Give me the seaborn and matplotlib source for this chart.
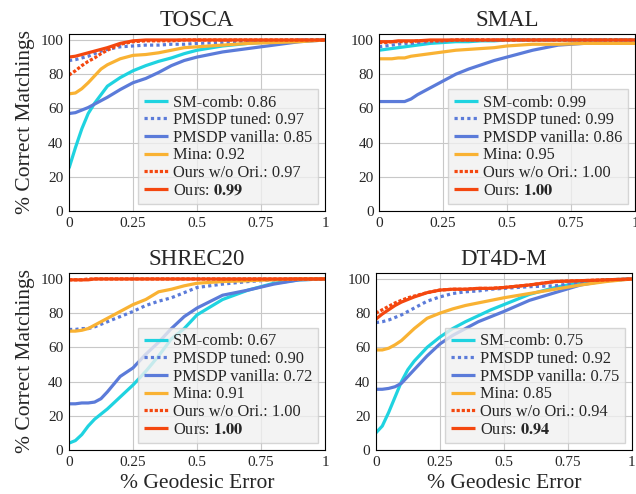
import matplotlib
matplotlib.use("Agg")
import matplotlib.pyplot as plt
import seaborn as sns
import pandas as pd

# sample positions along the geodesic error axis (shared by all curves)
geo_err = [0, 0.025, 0.05, 0.075, 0.1, 0.125, 0.15, 0.2, 0.25, 0.3,
           0.35, 0.4, 0.45, 0.5, 0.6, 0.7, 0.8, 0.9, 1.0]

methods = ["SM-comb", "PMSDP tuned", "PMSDP vanilla", "Mina", "Ours w/o Ori.", "Ours"]
datasets = ["TOSCA", "SMAL", "SHREC20", "DT4D-M"]

# AUC scores shown in the legends
auc_tosca = ["0.86", "0.97", "0.85", "0.92", "0.97", "0.99"]
auc_smal = ["0.99", "0.99", "0.86", "0.95", "1.00", "1.00"]
auc_shrec = ["0.67", "0.90", "0.72", "0.91", "1.00", "1.00"]
auc_dt4d = ["0.75", "0.92", "0.75", "0.85", "0.94", "0.94"]

# TOSCA curves (% correct matchings)
tosca_sm_comb = [25, 37, 48, 57, 63, 68, 73, 78, 82, 85, 87.5, 89.5, 92, 94, 96.5, 98, 99, 99.5, 100]
tosca_pmsdp_tuned = [88, 88.5, 89.5, 90.5, 92, 93.5, 94.5, 96, 96.5, 97, 97, 97.5, 97.5, 98, 98.5, 99, 99.5, 100, 100]
tosca_pmsdp_vanilla = [57, 57.5, 59, 60.5, 62.5, 64.5, 66.5, 71, 75, 77.5, 81, 85, 88, 90, 93, 95, 97, 99, 100]
tosca_mina = [68.5, 69, 71.5, 75, 79, 83, 85.5, 89, 91, 91.5, 92.5, 94, 95.5, 96, 97, 98, 98.5, 99, 100]
tosca_ours_wo = [79.5, 82, 85, 87.5, 89.5, 92, 94, 97.5, 99, 99.5, 99.5, 99.5, 100, 100, 100, 100, 100, 100, 100]
tosca_ours = [90, 90.5, 91.5, 92.5, 93.5, 94.5, 95.5, 98, 99.5, 100, 100, 100, 100, 100, 100, 100, 100, 100, 100]

# SMAL curves
smal_sm_comb = [94, 94.5, 95, 95.5, 96, 96.5, 97, 98, 98.5, 99, 99, 99.5, 99.5, 100, 100, 100, 100, 100, 100]
smal_pmsdp_tuned = [96, 96.5, 97, 97.5, 98, 98, 98.5, 99, 99.5, 100, 100, 100, 100, 100, 100, 100, 100, 100, 100]
smal_pmsdp_vanilla = [64, 64, 64, 64, 64, 65.5, 68, 72, 76, 80, 83, 85.5, 88, 90, 94, 97, 98, 98, 98]
smal_mina = [89, 89, 89, 89.5, 89.5, 90.5, 91, 92, 93, 94, 94.5, 95, 95.5, 96.5, 97.5, 97.5, 98, 98, 98]
smal_ours_wo = [98.5, 98.5, 99, 99, 99, 99, 99.5, 99.5, 99.5, 100, 100, 100, 100, 100, 100, 100, 100, 100, 100]
smal_ours = [99, 99, 99, 99.5, 99.5, 99.5, 99.5, 100, 100, 100, 100, 100, 100, 100, 100, 100, 100, 100, 100]

# SHREC20 curves
shrec_sm_comb = [4, 5.5, 9, 14, 18, 21, 24, 31, 38, 46, 55, 65, 71, 79, 88, 93.5, 97.5, 99.5, 100]
shrec_pmsdp_tuned = [70.5, 70.5, 71, 71, 72, 73.5, 75, 78, 81, 84.5, 87, 89, 92, 95, 97, 98.5, 99.5, 100, 100]
shrec_pmsdp_vanilla = [27, 27, 27.5, 27.5, 28, 30, 34, 43, 48, 56, 63, 71, 78, 83, 90.5, 93.5, 97, 99.5, 100]
shrec_mina = [69.5, 69.5, 70, 71, 73, 75, 77, 81, 85, 88, 92.5, 94, 96, 97.5, 98.5, 99, 99.5, 100, 100]
shrec_ours_wo = [99.5, 99.5, 99.5, 100, 100, 100, 100, 100, 100, 100, 100, 100, 100, 100, 100, 100, 100, 100, 100]
shrec_ours = [99.5, 99.5, 99.5, 99.5, 100, 100, 100, 100, 100, 100, 100, 100, 100, 100, 100, 100, 100, 100, 100]

# DT4D-M curves
dt4d_sm_comb = [10, 14, 22, 31, 40, 47, 52, 60, 66, 71, 75, 78.5, 82, 85, 91, 95, 98, 99.5, 100]
dt4d_pmsdp_tuned = [74.5, 75, 76, 77.5, 79, 81, 83, 87, 89.5, 91.5, 92.5, 93, 94, 94.5, 95.5, 96, 98, 99, 100]
dt4d_pmsdp_vanilla = [35.5, 35.5, 36, 37, 39, 43, 47, 55, 62, 67, 71, 75, 78, 81, 87.5, 92, 96.5, 99, 100]
dt4d_mina = [58.5, 58.5, 59.5, 61.5, 64, 67.5, 71, 77, 80, 82.5, 84.5, 86, 87.5, 89, 91.5, 94, 96.5, 98.5, 100]
dt4d_ours_wo = [80, 82, 84, 86, 87.5, 89, 90, 92, 93.5, 94, 94, 94.5, 94.5, 95, 96.5, 98.5, 99, 99.5, 100]
dt4d_ours = [76.5, 79.5, 82, 84.5, 86.5, 88, 89.5, 92, 93.5, 94, 94, 94.5, 94.5, 95, 96.5, 98.5, 99, 99.5, 100]

curves = {
    "TOSCA": [tosca_sm_comb, tosca_pmsdp_tuned, tosca_pmsdp_vanilla, tosca_mina, tosca_ours_wo, tosca_ours],
    "SMAL": [smal_sm_comb, smal_pmsdp_tuned, smal_pmsdp_vanilla, smal_mina, smal_ours_wo, smal_ours],
    "SHREC20": [shrec_sm_comb, shrec_pmsdp_tuned, shrec_pmsdp_vanilla, shrec_mina, shrec_ours_wo, shrec_ours],
    "DT4D-M": [dt4d_sm_comb, dt4d_pmsdp_tuned, dt4d_pmsdp_vanilla, dt4d_mina, dt4d_ours_wo, dt4d_ours],
}
aucs = {"TOSCA": auc_tosca, "SMAL": auc_smal, "SHREC20": auc_shrec, "DT4D-M": auc_dt4d}

colors = ["#1fd3e0", "#5b7bd9", "#5b7bd9", "#f9b233", "#f4470f", "#f4470f"]
styles = ["-", (0, (1, 1)), "-", "-", (0, (1, 0.6)), "-"]

sns.set_style("whitegrid")
plt.rcParams["font.family"] = ["Liberation Serif", "DejaVu Serif"]
plt.rcParams["mathtext.fontset"] = "stix"

fig = plt.figure(figsize=(6.36, 4.94), dpi=100)
# axes rectangles (left, bottom, width, height) in figure fraction
boxes = {
    "TOSCA": [0.1085, 0.5729, 0.4025, 0.3583],
    "SMAL": [0.596, 0.5729, 0.4025, 0.3583],
    "SHREC20": [0.1085, 0.0891, 0.4025, 0.3583],
    "DT4D-M": [0.591, 0.0891, 0.4025, 0.3583],
}

for name in datasets:
    ax = fig.add_axes(boxes[name])
    df = pd.DataFrame({"err": geo_err})
    for i, m in enumerate(methods):
        df[m] = curves[name][i]
        if m == "Ours":
            label = r"Ours: $\mathbf{%s}$" % aucs[name][i]
        else:
            label = f"{m}: {aucs[name][i]}"
        sns.lineplot(data=df, x="err", y=m, ax=ax, color=colors[i], linestyle=styles[i],
                     linewidth=2.3, label=label, solid_capstyle="butt", dash_capstyle="butt")

    ax.set_xlim(0, 1)
    ax.set_ylim(0, 103.5)
    ax.set_xticks([0, 0.25, 0.5, 0.75, 1])
    ax.set_xticklabels(["0", "0.25", "0.5", "0.75", "1"])
    ax.set_yticks([0, 20, 40, 60, 80, 100])
    ax.tick_params(labelsize=11, length=0, pad=4)
    ax.grid(True, color="#c8c8c8", linewidth=0.8)
    for s in ax.spines.values():
        s.set_color("black")
        s.set_linewidth(0.8)
    ax.set_title(name, fontsize=16.5, pad=6)
    ax.set_xlabel("% Geodesic Error" if name in ("SHREC20", "DT4D-M") else "", fontsize=15.5)
    ax.set_ylabel("% Correct Matchings" if name in ("TOSCA", "SHREC20") else "", fontsize=15.5)

    leg = ax.legend(loc="lower right", fontsize=11.8, labelspacing=0.1, handlelength=1.45,
                    handletextpad=0.35, borderpad=0.35, borderaxespad=0.4,
                    fancybox=False, framealpha=0.8, facecolor="#f0f0f0", edgecolor="#cccccc")

fig.savefig("out.png", dpi=100)
